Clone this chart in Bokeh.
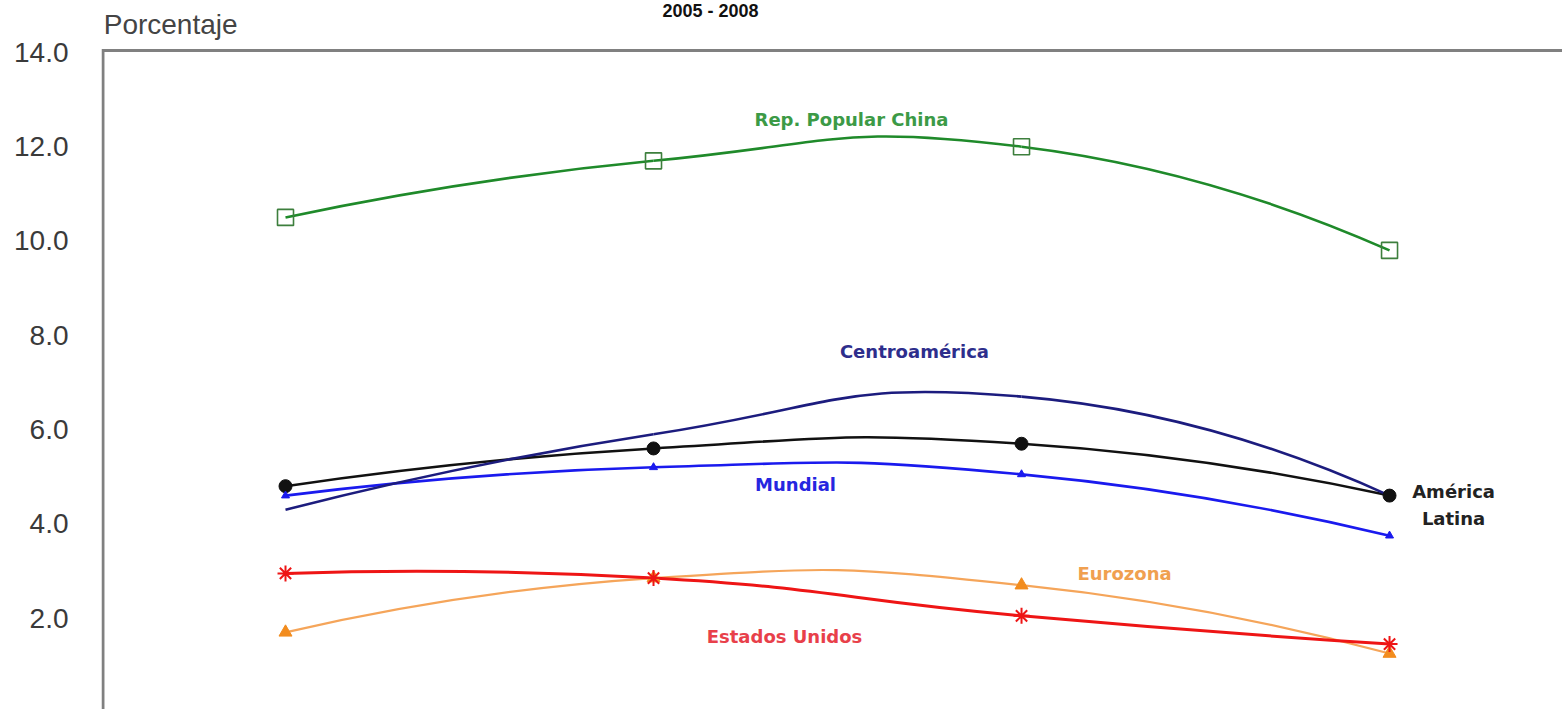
from bokeh.plotting import figure
from bokeh.models import Range1d, FixedTicker, Label, NumeralTickFormatter
from bokeh.embed import file_html
from bokeh.resources import INLINE

# ---- data ----
years = ["2005", "2006", "2007", "2008"]
china = [10.5, 11.7, 12.0, 9.8]
centroamerica = [4.3, 5.9, 6.7, 4.6]
america_latina = [4.8, 5.6, 5.7, 4.6]
mundial = [4.6, 5.2, 5.05, 3.75]
eurozona = [1.7, 2.85, 2.7, 1.25]
estados_unidos = [2.95, 2.85, 2.05, 1.45]
y_ticks = [0, 2, 4, 6, 8, 10, 12, 14]

xs = list(range(len(years)))

# frame geometry (plot box drawn by hand so text above it is not clipped)
X0, X1 = -0.5, 3.47          # visible x extent
Y0, Y1 = 0.0634, 15.1004     # visible y extent
BOX_LEFT, BOX_TOP = -0.496, 14.04

p = figure(width=1562, height=709,
           x_range=Range1d(X0, X1), y_range=Range1d(Y0, Y1),
           x_axis_location=None, y_axis_location="left",
           toolbar_location=None, output_backend="svg",
           min_border_left=101, min_border_right=0,
           min_border_top=0, min_border_bottom=0)
p.grid.visible = False
p.outline_line_color = None
p.background_fill_color = "white"
p.border_fill_color = "white"

ya = p.yaxis[0]
ya.ticker = FixedTicker(ticks=y_ticks)
ya.formatter = NumeralTickFormatter(format="0.0")
ya.major_label_text_font = "Liberation Sans"
ya.major_label_text_font_size = "28px"
ya.major_label_text_color = "#3a3a3a"
ya.major_tick_line_color = None
ya.major_tick_out = 0
ya.major_tick_in = 0
ya.minor_tick_line_color = None
ya.axis_line_color = None
ya.major_label_standoff = 33

# plot box: left and top borders
p.segment(x0=[BOX_LEFT, BOX_LEFT], y0=[Y0, BOX_TOP],
          x1=[BOX_LEFT, X1], y1=[BOX_TOP + 0.03, BOX_TOP],
          line_color="#808080", line_width=3)


def smooth(xv, yv, k=0.25):
    """Smoothed-line Bezier control points computed from the data points."""
    n = len(xv)
    out = dict(x0=[], y0=[], x1=[], y1=[], cx0=[], cy0=[], cx1=[], cy1=[])
    for i in range(n - 1):
        x1, y1, x2, y2 = xv[i], yv[i], xv[i + 1], yv[i + 1]
        has_prev, has_next = i > 0, i + 2 < n
        if has_prev:
            ax, ay = x1 + k * (x2 - xv[i - 1]), y1 + k * (y2 - yv[i - 1])
        if has_next:
            bx, by = x2 - k * (xv[i + 2] - x1), y2 - k * (yv[i + 2] - y1)
        if has_prev and has_next:
            c0, c1 = (ax, ay), (bx, by)
        else:
            cx, cy = (bx, by) if has_next else (ax, ay)
            if not has_prev and not has_next:
                cx, cy = (x1 + x2) / 2, (y1 + y2) / 2
            c0 = (x1 + 2 / 3 * (cx - x1), y1 + 2 / 3 * (cy - y1))
            c1 = (x2 + 2 / 3 * (cx - x2), y2 + 2 / 3 * (cy - y2))
        out["x0"].append(x1); out["y0"].append(y1)
        out["x1"].append(x2); out["y1"].append(y2)
        out["cx0"].append(c0[0]); out["cy0"].append(c0[1])
        out["cx1"].append(c1[0]); out["cy1"].append(c1[1])
    return out


series = [
    (eurozona, "#f5a55a", 2.2),
    (estados_unidos, "#ee1515", 3),
    (mundial, "#1a1aee", 2.6),
    (america_latina, "#111111", 2.6),
    (centroamerica, "#1c1c7e", 2.6),
    (china, "#1f8a2a", 2.6),
]
for vals, col, w in series:
    p.bezier(line_color=col, line_width=w, **smooth(xs, vals))

# markers
p.scatter(xs, china, marker="square", size=16, line_color="#3d7f3d",
          fill_color=None, line_width=1.6)
p.scatter(xs, america_latina, marker="circle", size=13, color="#111111")
p.scatter(xs, mundial, marker="triangle", size=8, color="#1a1aee")
p.scatter(xs, eurozona, marker="triangle", size=13, color="#f28c1e")
p.scatter(xs, estados_unidos, marker="asterisk", size=16, line_color="#ee1515",
          line_width=2)


def lab(x, y, text, color, size="18px", font="DejaVu Sans", style="bold",
        align="center", baseline="middle"):
    p.add_layout(Label(x=x, y=y, text=text, text_color=color, text_font=font,
                       text_font_size=size, text_font_style=style,
                       text_align=align, text_baseline=baseline))


lab(1.538, 12.58, "Rep. Popular China", "#3c9a46")
lab(1.709, 7.656, "Centroamérica", "#2e2e8c")
lab(1.386, 4.835, "Mundial", "#2626e0")
lab(3.174, 4.687, "América", "#222222")
lab(3.174, 4.114, "Latina", "#222222")
lab(2.280, 2.948, "Eurozona", "#f0a050")
lab(1.356, 1.612, "Estados Unidos", "#e8404a")

# axis title and chart title (above the plot box)
lab(-0.494, 14.93, "Porcentaje", "#444444", size="28px", font="Liberation Sans",
    style="normal", align="left", baseline="top")
lab(1.155, 15.085, "2005 - 2008", "#111111", size="18px", font="Liberation Sans",
    style="bold", align="center", baseline="top")

open("out.html", "w").write(file_html(p, INLINE))
